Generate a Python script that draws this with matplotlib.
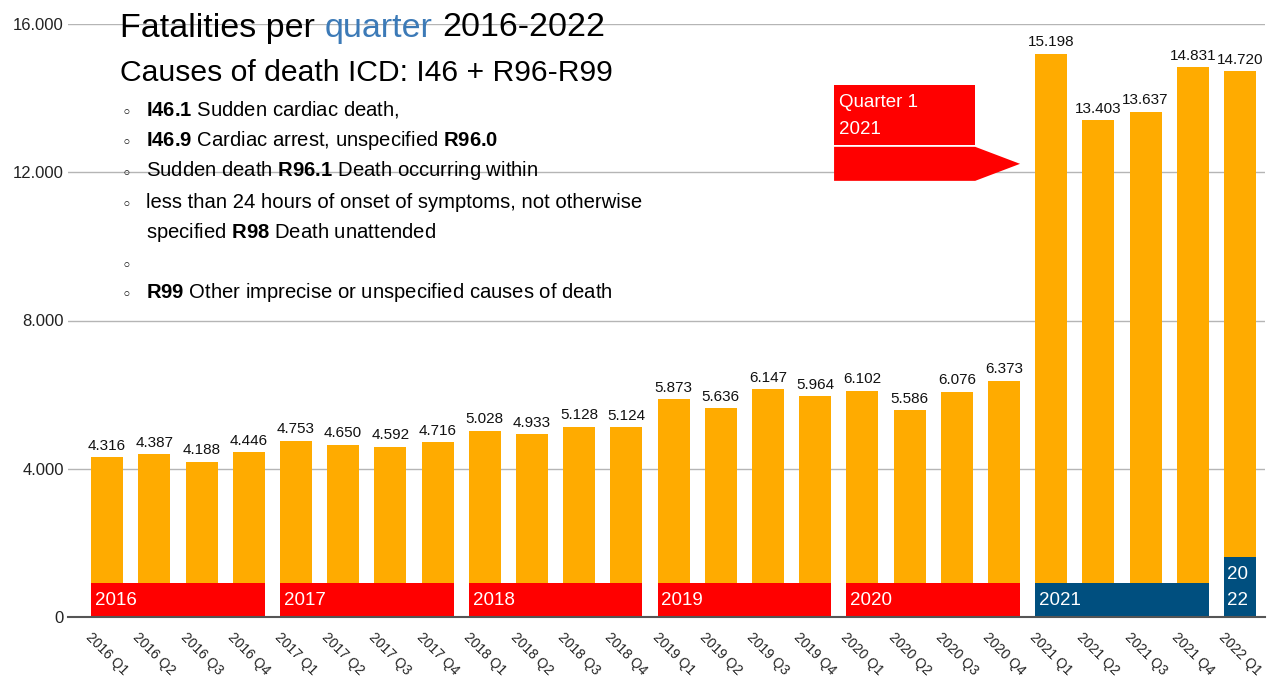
import numpy as np
import matplotlib
matplotlib.use("Agg")
import matplotlib.pyplot as plt
from matplotlib.patches import Rectangle, Polygon
from matplotlib.transforms import ScaledTranslation

plt.rcParams['font.family'] = ['Liberation Sans', 'DejaVu Sans']
plt.rcParams['mathtext.fontset'] = 'custom'
plt.rcParams['mathtext.rm'] = 'Liberation Sans'
plt.rcParams['mathtext.bf'] = 'Liberation Sans:bold'

# data
quarters = [f"{y} Q{q}" for y in range(2016, 2022) for q in range(1, 5)] + ["2022 Q1"]
fatalities = [4316, 4387, 4188, 4446, 4753, 4650, 4592, 4716, 5028, 4933, 5128, 5124,
              5873, 5636, 6147, 5964, 6102, 5586, 6076, 6373,
              15198, 13403, 13637, 14831, 14720]
year_labels = ["2016", "2017", "2018", "2019", "2020", "2021"]
year_start = [0, 4, 8, 12, 16, 20]
yticks = [0, 4000, 8000, 12000, 16000]
ytick_labels = ["0", "4.000", "8.000", "12.000", "16.000"]

ORANGE = "#FFAB00"
RED = "#FF0000"
BLUE = "#004F7F"

fig = plt.figure(figsize=(12.8, 6.91), dpi=100)
ax = fig.add_axes([68 / 1280, 74 / 691, 1197 / 1280, 593 / 691])

x = np.arange(len(fatalities))
bw = 0.68
ax.bar(x, fatalities, width=bw, color=ORANGE, zorder=2)
for xi, v in zip(x, fatalities):
    ax.text(xi, v + 120, f"{v:,}".replace(",", "."), ha="center", va="bottom",
            fontsize=11, color="#111111", zorder=4)

# year bands
for lab, s in zip(year_labels, year_start):
    col = BLUE if lab == "2021" else RED
    ax.add_patch(Rectangle((s - bw / 2, 0), 3 + bw, 920, facecolor=col,
                           edgecolor="none", zorder=3))
    ax.text(s - bw / 2 + 0.08, 440, lab, color="white", fontsize=13.5,
            ha="left", va="center", zorder=4)
ax.add_patch(Rectangle((24 - bw / 2, 0), bw, 1620, facecolor=BLUE,
                       edgecolor="none", zorder=3))
ax.text(24 - bw / 2 + 0.07, 1150, "20", color="white", fontsize=13.5, ha="left", va="center", zorder=4)
ax.text(24 - bw / 2 + 0.07, 440, "22", color="white", fontsize=13.5, ha="left", va="center", zorder=4)

# quarter 1 2021 callout
ax.add_patch(Rectangle((15.4, 12740), 2.99, 1620, facecolor=RED, edgecolor="none", zorder=3))
ax.text(15.5, 13880, "Quarter 1", color="white", fontsize=13.5, va="center", zorder=4)
ax.text(15.5, 13150, "2021", color="white", fontsize=13.5, va="center", zorder=4)
ax.add_patch(Polygon([(15.4, 12686), (18.39, 12686), (19.34, 12227),
                      (18.39, 11768), (15.4, 11768)], closed=True,
                     facecolor=RED, edgecolor="none", zorder=3))

ax.set_xlim(-0.83, 24.53)
ax.set_ylim(0, 16000)
ax.set_yticks(yticks)
ax.set_yticklabels(ytick_labels)
ax.grid(axis="y", color="#b5b5b5", lw=1, zorder=0)
ax.set_axisbelow(True)
for s in ["top", "right", "left"]:
    ax.spines[s].set_visible(False)
ax.spines["bottom"].set_color("#555555")
ax.spines["bottom"].set_linewidth(1.5)
ax.spines["bottom"].set_zorder(5)
ax.tick_params(axis="y", length=0, pad=3, labelsize=12, labelcolor="#222222")
ax.tick_params(axis="x", length=0)
ax.set_xticks(x)
ax.set_xticklabels(quarters, rotation=-45, ha="left", va="top",
                   rotation_mode="anchor", fontsize=10, color="#222222")
off = ScaledTranslation(-14 / 100, -8 / 100, fig.dpi_scale_trans)
for t in ax.get_xticklabels():
    t.set_transform(t.get_transform() + off)

# title with coloured word
renderer = fig.canvas.get_renderer()
tx, ty = 120 / 1280, 1 - 28 / 691
pieces = [("Fatalities per", "black"), ("quarter", "#3C7AB7"), ("2016-2022", "black")]
sp = fig.text(0, 0, "a a", fontsize=24.5)
sp2 = fig.text(0, 0, "aa", fontsize=24.5)
space_w = (sp.get_window_extent(renderer).width - sp2.get_window_extent(renderer).width) / 1280
sp.remove(); sp2.remove()
cx = tx
for txt, col in pieces:
    t = fig.text(cx, ty, txt, fontsize=24.5, color=col, va="center", ha="left")
    cx += t.get_window_extent(renderer).width / 1280 + space_w

fig.text(tx, 1 - 73 / 691, "Causes of death ICD: I46 + R96-R99", fontsize=21.7,
         va="center", ha="left")

bullets = [
    (110, True, r"$\bf{I46.1}$ Sudden cardiac death,"),
    (140, True, r"$\bf{I46.9}$ Cardiac arrest, unspecified $\bf{R96.0}$"),
    (171, True, r"Sudden death $\bf{R96.1}$ Death occurring within"),
    (202, True, "less than 24 hours of onset of symptoms, not otherwise"),
    (232, False, r"specified $\bf{R98}$ Death unattended"),
    (263, True, ""),
    (292, True, r"$\bf{R99}$ Other imprecise or unspecified causes of death"),
]
for yy, has_b, txt in bullets:
    if has_b:
        fig.text(126 / 1280, 1 - (yy + 3) / 691, "\u25e6", fontsize=12, va="center",
                 ha="center", family=["DejaVu Sans"])
    if txt:
        fig.text(146 / 1280, 1 - yy / 691, txt, fontsize=14.6, va="center", ha="left")

fig.savefig("out.png", dpi=100)
